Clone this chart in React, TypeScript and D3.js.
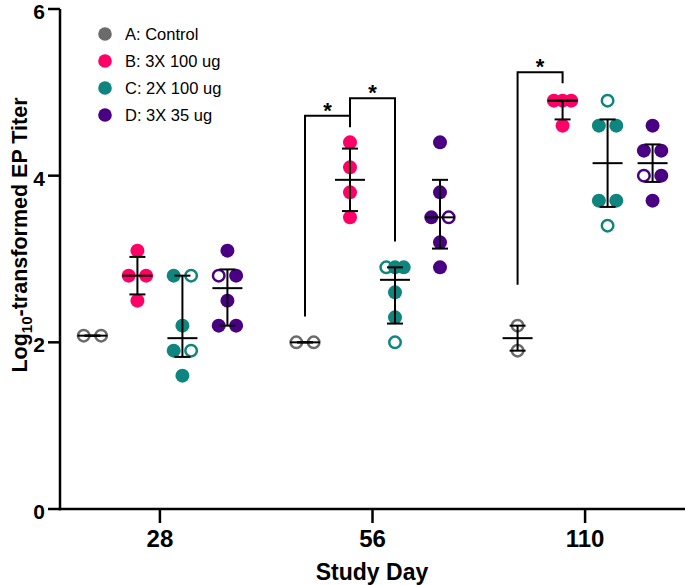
import React from "react";
import * as d3 from "d3";

const days = ["28", "56", "110"];
const groupNames = ["A: Control", "B: 3X 100 ug", "C: 2X 100 ug", "D: 3X 35 ug"];
const groupColors = ["#6b6b6b", "#ff0066", "#0f857f", "#4a0082"];
const yTicks = [0, 2, 4, 6];

// values per group, one list per study day (28, 56, 110)
const valuesA = [[2.08, 2.08], [2.0, 2.0], [2.2, 1.9]];
const openA = [[1, 1], [1, 1], [1, 1]];
const valuesB = [[3.1, 2.8, 2.8, 2.5], [4.4, 4.1, 3.8, 3.5], [4.9, 4.9, 4.9, 4.6]];
const openB = [[0, 0, 0, 0], [0, 0, 0, 0], [0, 0, 0, 0]];
const valuesC = [[2.8, 2.8, 2.2, 1.9, 1.9, 1.6], [2.9, 2.9, 2.9, 2.6, 2.3, 2.0], [4.9, 4.6, 4.6, 3.7, 3.7, 3.4]];
const openC = [[0, 1, 0, 0, 1, 0], [1, 0, 0, 0, 0, 1], [1, 0, 0, 0, 0, 1]];
const valuesD = [[3.1, 2.8, 2.8, 2.5, 2.2, 2.2], [4.4, 3.8, 3.5, 3.5, 3.2, 2.9], [4.6, 4.3, 4.3, 4.0, 4.0, 3.7]];
const openD = [[0, 1, 0, 0, 0, 0], [0, 0, 0, 1, 0, 0], [0, 0, 0, 1, 0, 0]];

// significance brackets (values in data units)
const bracketDays = ["56", "56", "110"];
const bracketFrom = [0, 1, 0];
const bracketTo = [1, 2, 1];
const bracketTop = [4.72, 4.93, 5.24];
const bracketEndFrom = [2.31, 4.72, 2.69];
const bracketEndTo = [4.58, 3.21, 5.11];

const allValues = [valuesA, valuesB, valuesC, valuesD];
const allOpen = [openA, openB, openC, openD];

function quantile(sorted: number[], p: number) {
  const n = sorted.length;
  const pos = (n + 1) * p;
  if (pos <= 1) return sorted[0];
  if (pos >= n) return sorted[n - 1];
  const lo = Math.floor(pos);
  const f = pos - lo;
  return sorted[lo - 1] + f * (sorted[lo] - sorted[lo - 1]);
}

const FONT = "'Liberation Sans', Arial, Helvetica, sans-serif";

export default function App() {
  const W = 685, H = 585;
  const y = d3.scaleLinear().domain([0, 6]).range([509, 9]);
  const xDay = d3.scalePoint<string>().domain(days).range([60, 685]).padding(0.47);
  const xGroup = d3.scalePoint<number>().domain([0, 1, 2, 3]).range([-67.5, 67.5]);
  const spread = 8.7;
  const r = 7;
  const sw = 2.5;

  const pointMarks: any[] = [];
  const statMarks: any[] = [];
  allValues.forEach((gv, g) => {
    gv.forEach((vals, di) => {
      const cx0 = (xDay(days[di]) as number) + (xGroup(g) as number);
      // arrange equal values side by side
      const counts = new Map<number, number>();
      vals.forEach((v) => counts.set(v, (counts.get(v) || 0) + 1));
      const seen = new Map<number, number>();
      vals.forEach((v, i) => {
        const k = counts.get(v) as number;
        const idx = seen.get(v) || 0;
        seen.set(v, idx + 1);
        const off = k === 1 ? 0 : (idx / (k - 1) - 0.5) * 2 * spread;
        const open = allOpen[g][di][i] === 1;
        pointMarks.push(
          <circle
            key={`p-${g}-${di}-${i}`}
            cx={cx0 + off}
            cy={y(v)}
            r={open ? r - sw / 2 : r}
            fill={open ? "white" : groupColors[g]}
            stroke={open ? groupColors[g] : "none"}
            strokeWidth={open ? sw : 0}
          />
        );
      });
      const sorted = [...vals].sort((a, b) => a - b);
      const med = d3.median(sorted) as number;
      const q1 = quantile(sorted, 0.25);
      const q3 = quantile(sorted, 0.75);
      statMarks.push(
        <g key={`s-${g}-${di}`} stroke="black" strokeWidth={2}>
          <line x1={cx0} x2={cx0} y1={y(q1)} y2={y(q3)} />
          <line x1={cx0 - 8} x2={cx0 + 8} y1={y(q1)} y2={y(q1)} />
          <line x1={cx0 - 8} x2={cx0 + 8} y1={y(q3)} y2={y(q3)} />
          <line x1={cx0 - 15} x2={cx0 + 15} y1={y(med)} y2={y(med)} />
        </g>
      );
    });
  });

  const bracketMarks = bracketDays.map((d, i) => {
    const xa = (xDay(d) as number) + (xGroup(bracketFrom[i]) as number);
    const xb = (xDay(d) as number) + (xGroup(bracketTo[i]) as number);
    const yt = y(bracketTop[i]);
    return (
      <g key={`b-${i}`}>
        <path
          d={`M${xa},${y(bracketEndFrom[i])}V${yt}H${xb}V${y(bracketEndTo[i])}`}
          fill="none"
          stroke="black"
          strokeWidth={2}
        />
        <text x={(xa + xb) / 2} y={yt + 2} textAnchor="middle" fontSize={22} fontWeight="bold" fontFamily={FONT}>
          *
        </text>
      </g>
    );
  });

  return (
    <svg width={W} height={H} style={{ position: "absolute", left: 0, top: 0, background: "white" }}>
      <rect width={W} height={H} fill="white" />
      {/* axes */}
      <g stroke="black" strokeWidth={2.5}>
        <line x1={60} x2={60} y1={y(6)} y2={y(0) + 1.25} />
        <line x1={58.75} x2={W} y1={y(0)} y2={y(0)} />
        {yTicks.map((t) => (
          <line key={`yt-${t}`} x1={48} x2={60} y1={y(t)} y2={y(t)} />
        ))}
        {days.map((d) => (
          <line key={`xt-${d}`} x1={xDay(d) as number} x2={xDay(d) as number} y1={y(0)} y2={y(0) + 14} />
        ))}
      </g>
      {yTicks.map((t) => (
        <text key={`yl-${t}`} x={45} y={y(t) + 10} textAnchor="end" fontSize={21} fontWeight="bold" fontFamily={FONT}>
          {t}
        </text>
      ))}
      {days.map((d) => (
        <text key={`xl-${d}`} x={xDay(d) as number} y={547} textAnchor="middle" fontSize={24} fontWeight="bold" fontFamily={FONT}>
          {d}
        </text>
      ))}
      <text x={372} y={580} textAnchor="middle" fontSize={23} fontWeight="bold" fontFamily={FONT}>
        Study Day
      </text>
      <text
        transform={`translate(27,${235}) rotate(-90)`}
        textAnchor="middle"
        fontSize={21.5}
        fontWeight="bold"
        fontFamily={FONT}
      >
        Log<tspan fontSize={15} dy={5}>10</tspan><tspan dy={-5}>-transformed EP Titer</tspan>
      </text>
      {/* legend */}
      {groupNames.map((n, i) => (
        <g key={`lg-${i}`}>
          <circle cx={105} cy={34 + 27 * i} r={6.8} fill={groupColors[i]} />
          <text x={125} y={34 + 27 * i} dy="0.36em" fontSize={16.5} fontFamily={FONT}>
            {n}
          </text>
        </g>
      ))}
      {pointMarks}
      {statMarks}
      {bracketMarks}
    </svg>
  );
}
